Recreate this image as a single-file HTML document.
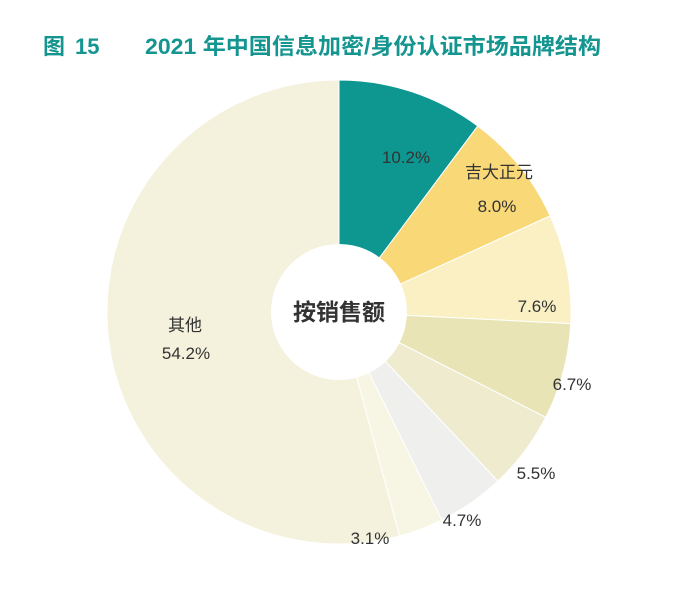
<!DOCTYPE html>
<html><head><meta charset="utf-8"><style>
body{margin:0;background:#fff;width:700px;height:603px;overflow:hidden}
svg{display:block}
text{font-family:"Liberation Sans","Noto Sans CJK SC",sans-serif}
</style></head><body>
<svg width="700" height="603" viewBox="0 0 700 603">
<text x="43" y="54" font-size="22" font-weight="bold" fill="#149590">图</text>
<text x="75" y="54" font-size="22" font-weight="bold" fill="#149590">15</text>
<text x="145" y="54" font-size="22" font-weight="bold" fill="#149590" textLength="456" lengthAdjust="spacingAndGlyphs">2021 年中国信息加密/身份认证市场品牌结构</text>
<g id="pie" stroke="#fff" stroke-width="1"></g>
<circle cx="339" cy="312" r="68" fill="#fff"/>
<text x="339" y="320" font-size="23" font-weight="bold" fill="#333" text-anchor="middle">按销售额</text>
<g font-size="17" fill="#333" text-anchor="middle">
<text x="406" y="163">10.2%</text>
<text x="499" y="178">吉大正元</text>
<text x="497" y="212">8.0%</text>
<text x="537" y="312">7.6%</text>
<text x="572" y="390">6.7%</text>
<text x="536" y="479">5.5%</text>
<text x="462" y="526">4.7%</text>
<text x="370" y="544">3.1%</text>
<text x="185" y="331">其他</text>
<text x="186" y="359">54.2%</text>
</g>
</svg>
<script>
var d=[[10.2,"#0E9690"],[8.0,"#F8D877"],[7.6,"#FAF0C4"],[6.7,"#E8E4B5"],[5.5,"#EFEBCF"],[4.7,"#EFEFED"],[3.1,"#F7F6E4"],[54.2,"#F4F1DC"]];
var cx=339,cy=312,R=232,g=document.getElementById("pie"),a=0,s="";
d.forEach(function(v){var b=a+v[0]/100*360;
function p(t){var r=t*Math.PI/180;return [cx+R*Math.sin(r),cy-R*Math.cos(r)];}
var p1=p(a),p2=p(b),l=(b-a)>180?1:0;
s+='<path d="M'+cx+','+cy+'L'+p1[0]+','+p1[1]+'A'+R+','+R+' 0 '+l+' 1 '+p2[0]+','+p2[1]+'Z" fill="'+v[1]+'"/>';a=b;});
g.innerHTML=s;
</script>
</body></html>
